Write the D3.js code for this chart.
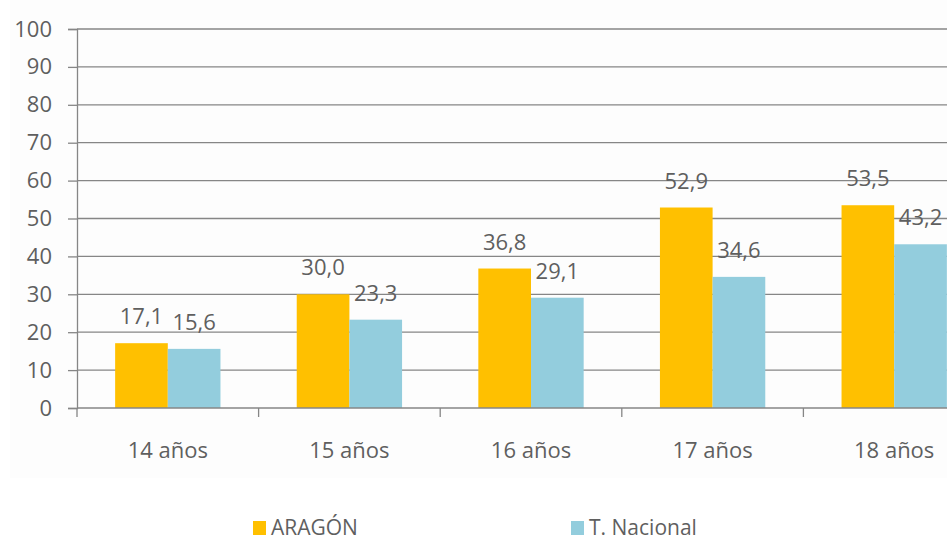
<!DOCTYPE html>
<html>
<head>
<meta charset="utf-8">
<script src="https://cdn.jsdelivr.net/npm/d3@7"></script>
<style>
  body { margin: 0; background: #fff; }
  svg { display: block; font-family: "Open Sans", sans-serif; }
</style>
</head>
<body>
<svg id="chart" width="947" height="541"></svg>
<script>
var categories = ["14 años", "15 años", "16 años", "17 años", "18 años"],
    seriesNames = ["ARAGÓN", "T. Nacional"],
    aragon = [17.1, 30.0, 36.8, 52.9, 53.5],
    nacional = [15.6, 23.3, 29.1, 34.6, 43.2],
    yTicks = [0, 10, 20, 30, 40, 50, 60, 70, 80, 90, 100],
    COLORS = ["#FFC000", "#93CDDD"];

var svg = d3.select("#chart"),
    plotLeft = 77, plotRight = 985, plotTop = 29, plotBottom = 408,
    textColor = "#5f5f5f",
    gridColor = "#868686";

svg.append("rect")
    .attr("x", 10).attr("y", 0)
    .attr("width", 937).attr("height", 478)
    .attr("fill", "#fdfdfd");

var x = d3.scaleBand()
    .domain(categories)
    .range([plotLeft, plotRight])
    .paddingInner(0.42)
    .paddingOuter(0.21);

var xs = d3.scaleBand()
    .domain(seriesNames)
    .range([0, x.bandwidth()]);

var y = d3.scaleLinear()
    .domain([0, 100])
    .range([plotBottom, plotTop]);

var fmt = function(v) { return d3.format(".1f")(v).replace(".", ","); };

// gridlines
svg.append("g").selectAll("line")
    .data(yTicks.filter(function(d) { return d > 0; }))
    .enter().append("line")
    .attr("x1", plotLeft).attr("x2", 947)
    .attr("y1", function(d) { return y(d); })
    .attr("y2", function(d) { return y(d); })
    .attr("stroke", gridColor)
    .attr("stroke-width", 1.3);

// y axis
var yAxis = svg.append("g")
    .attr("transform", "translate(" + plotLeft + ",0)")
    .call(d3.axisLeft(y).tickValues(yTicks).tickSize(9).tickPadding(16));
yAxis.select(".domain").attr("stroke", gridColor).attr("stroke-width", 1.3);
yAxis.selectAll(".tick line").attr("stroke", gridColor).attr("stroke-width", 1.3);
yAxis.selectAll(".tick text")
    .attr("fill", textColor)
    .style("font-size", "22px")
    .style("font-family", "Open Sans, sans-serif");

var rows = categories.map(function(c, i) {
  return {cat: c, values: [aragon[i], nacional[i]]};
});

var groups = svg.append("g").selectAll("g")
    .data(rows)
    .enter().append("g")
    .attr("transform", function(d) { return "translate(" + x(d.cat) + ",0)"; });

groups.selectAll("rect")
    .data(function(d) { return d.values.map(function(v, j) { return {s: seriesNames[j], v: v, j: j}; }); })
    .enter().append("rect")
    .attr("x", function(d) { return xs(d.s); })
    .attr("width", xs.bandwidth())
    .attr("y", function(d) { return y(d.v); })
    .attr("height", function(d) { return y(0) - y(d.v); })
    .attr("fill", function(d) { return COLORS[d.j]; });

groups.selectAll("text")
    .data(function(d) { return d.values.map(function(v, j) { return {s: seriesNames[j], v: v}; }); })
    .enter().append("text")
    .attr("x", function(d) { return xs(d.s) + xs.bandwidth() / 2; })
    .attr("y", function(d) { return y(d.v) - 19; })
    .attr("text-anchor", "middle")
    .attr("fill", textColor)
    .style("font-size", "22px")
    .text(function(d) { return fmt(d.v); });

// x axis with boundary ticks
var xAxisG = svg.append("g");
xAxisG.append("line")
    .attr("x1", plotLeft).attr("x2", 947)
    .attr("y1", plotBottom).attr("y2", plotBottom)
    .attr("stroke", gridColor).attr("stroke-width", 1.3);
var step = x.step();
xAxisG.selectAll("line.tk")
    .data(categories)
    .enter().append("line")
    .attr("class", "tk")
    .attr("x1", function(d) { return x(d) - x.paddingOuter() * step; })
    .attr("x2", function(d) { return x(d) - x.paddingOuter() * step; })
    .attr("y1", plotBottom).attr("y2", plotBottom + 9)
    .attr("stroke", gridColor).attr("stroke-width", 1.3);
xAxisG.selectAll("text")
    .data(categories)
    .enter().append("text")
    .attr("x", function(d) { return x(d) + x.bandwidth() / 2; })
    .attr("y", 458)
    .attr("text-anchor", "middle")
    .attr("fill", textColor)
    .style("font-size", "22px")
    .text(function(d) { return d; });

// legend
var legend = svg.append("g");
var legendX = [253, 571];
seriesNames.forEach(function(name, i) {
  legend.append("rect")
      .attr("x", legendX[i]).attr("y", 521)
      .attr("width", 13).attr("height", 14)
      .attr("fill", COLORS[i]);
  legend.append("text")
      .attr("x", legendX[i] + 18).attr("y", 535)
      .attr("fill", textColor)
      .style("font-size", "21px")
      .text(name);
});
</script>
</body>
</html>
